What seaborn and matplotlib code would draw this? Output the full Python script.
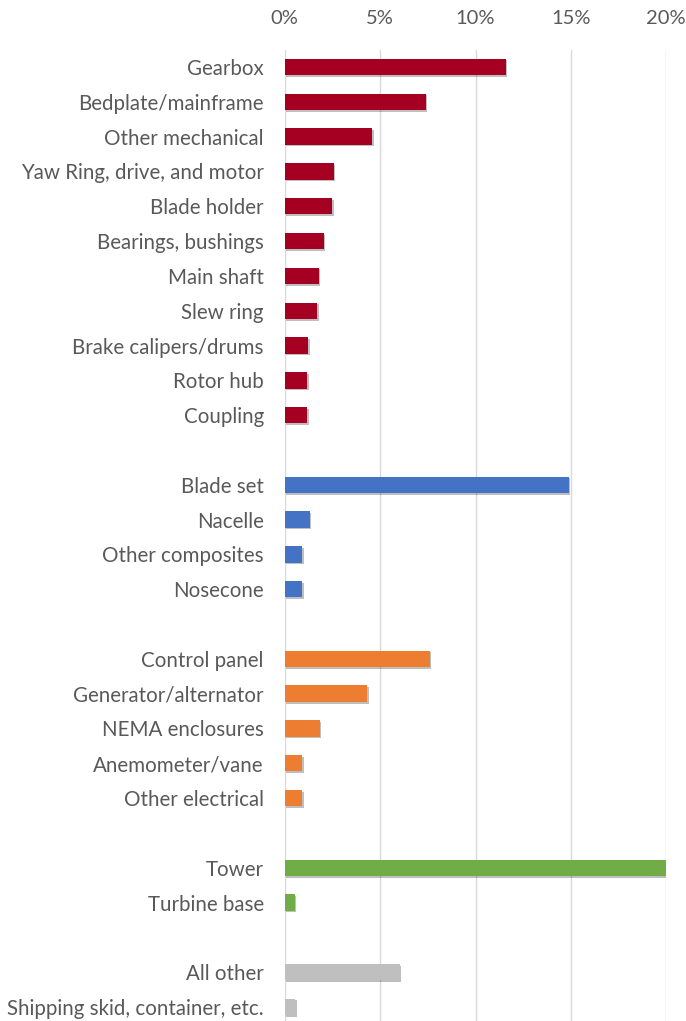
import matplotlib
matplotlib.use("Agg")
import matplotlib.pyplot as plt
import matplotlib.patheffects as pe
from matplotlib.ticker import PercentFormatter
import seaborn as sns
import pandas as pd
import numpy as np

mechanical = ["Gearbox", "Bedplate/mainframe", "Other mechanical", "Yaw Ring, drive, and motor",
              "Blade holder", "Bearings, bushings", "Main shaft", "Slew ring",
              "Brake calipers/drums", "Rotor hub", "Coupling"]
mechanical_vals = [11.6, 7.4, 4.6, 2.57, 2.5, 2.06, 1.8, 1.71, 1.24, 1.19, 1.19]

composites = ["Blade set", "Nacelle", "Other composites", "Nosecone"]
composites_vals = [14.9, 1.31, 0.92, 0.92]

electrical = ["Control panel", "Generator/alternator", "NEMA enclosures",
              "Anemometer/vane", "Other electrical"]
electrical_vals = [7.62, 4.32, 1.83, 0.92, 0.92]

structural = ["Tower", "Turbine base"]
structural_vals = [20.0, 0.52]

other = ["All other", "Shipping skid, container, etc."]
other_vals = [6.03, 0.56]

groups = ["Mechanical", "Composites", "Electrical", "Structural", "Other"]
colors = {"Mechanical": "#A50021", "Composites": "#4472C4", "Electrical": "#ED7D31",
          "Structural": "#70AD47", "Other": "#BFBFBF", "Blank": "#FFFFFF"}

rows = []
blank_i = 0
for gi, (g, cats, vals) in enumerate(zip(groups,
                                        [mechanical, composites, electrical, structural, other],
                                        [mechanical_vals, composites_vals, electrical_vals,
                                         structural_vals, other_vals])):
    if gi > 0:
        blank_i += 1
        rows.append({"label": " " * blank_i, "value": np.nan, "group": "Blank"})
    for c, v in zip(cats, vals):
        rows.append({"label": c, "value": v / 100.0, "group": g})
df = pd.DataFrame(rows)

sns.set_theme(style="white")
plt.rcParams["font.family"] = ["Lato", "DejaVu Sans"]

fig = plt.figure(figsize=(6.86, 10.21), dpi=100)
ax = fig.add_axes([284.7 / 686, 1 - 1024.4 / 1021, (666.3 - 284.7) / 686, (1024.4 - 49.6) / 1021])

sns.barplot(data=df, x="value", y="label", hue="group", palette=colors, dodge=False,
            saturation=1, width=0.47, legend=False, ax=ax, zorder=3, linewidth=0)

for p in ax.patches:
    p.set_path_effects([pe.SimplePatchShadow(offset=(1.0, -1.2), alpha=0.25, shadow_rgbFace="#000000"),
                        pe.Normal()])

ax.set_xlim(0, 0.20)
ax.set_ylim(len(df) - 0.5, -0.5)
ax.xaxis.set_major_formatter(PercentFormatter(1.0, decimals=0))
ax.set_xticks([0, 0.05, 0.10, 0.15, 0.20])
ax.xaxis.tick_top()
ax.grid(axis="x", color="#D9D9D9", linewidth=1.0, zorder=0)
ax.set_axisbelow(True)
for s in ax.spines.values():
    s.set_visible(False)
ax.tick_params(axis="x", length=0, pad=16, labelsize=14.5, labelcolor="#595959")
ax.tick_params(axis="y", length=0, pad=15, labelsize=14.8, labelcolor="#595959")
ax.set_xlabel("")
ax.set_ylabel("")

fig.savefig("out.png", dpi=100)
